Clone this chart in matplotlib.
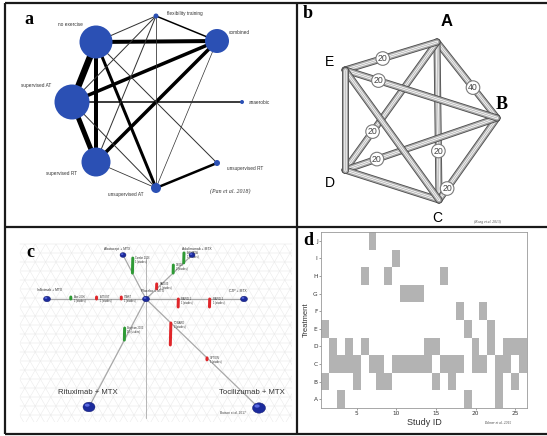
import numpy as np
import matplotlib.pyplot as plt
from matplotlib.patches import Circle, Ellipse, Rectangle

# ---- panel a: exercise network (Pan et al. 2018)
a_nodes = ['no exercise', 'flexibility training', 'combined', 'supervised AT',
           'anaerobic', 'supervised RT', 'unsupervised RT', 'unsupervised AT']
a_x = [96, 156, 217, 72, 242, 96, 217, 156]
a_y = [42, 16, 41, 102, 102, 162, 163, 188]
a_radius = [16.5, 2.5, 12, 17.5, 2, 14.5, 3, 5]
a_edges = [(0, 3), (3, 5), (0, 5), (0, 2), (3, 2), (5, 2), (0, 7), (7, 6), (3, 4),
           (2, 1), (0, 6), (0, 1), (3, 1), (5, 1), (7, 1), (7, 2), (3, 7), (5, 7)]
a_weight = [6.5, 5, 4, 4, 3.5, 3.5, 3, 2.5, 1.5, 1.5, 1, 1, 1, 1, 0.8, 0.7, 1, 0.8]
a_label_x = [70, 185, 239, 36, 246, 61, 245, 126]
a_label_y = [24, 13, 33, 86, 102, 173, 168, 194]

# ---- panel b: five treatments (Kong et al. 2013)
b_nodes = ['A', 'B', 'C', 'D', 'E']
b_x = [437, 497, 439, 345, 345]
b_y = [42, 118, 200, 170, 70]
b_counts = [('E', 'A', 0.41, 20), ('E', 'B', 0.22, 20), ('A', 'B', 0.60, 40),
            ('D', 'A', 0.30, 20), ('D', 'B', 0.21, 20), ('A', 'C', 0.69, 20),
            ('B', 'C', 0.86, 20)]

# ---- panel c: RA biologics network (Batson et al. 2017)
c_nodes = ['Placebo + MTX', 'Infliximab + MTX', 'Abatacept + MTX', 'Adalimumab + MTX',
           'CZP + MTX', 'Rituximab + MTX', 'Tocilizumab + MTX']
c_x = [146, 47, 123, 192, 244, 89, 259]
c_y = [299, 299, 255, 255, 299, 407, 408]
c_node_w = [7, 7, 6, 6, 7, 12, 13]
# bars: edge (to node), position along edge, signed height, colour, label
c_bar_node = [2, 3, 3, 3, 1, 1, 1, 4, 4, 5, 6, 6]
c_bar_t = [0.59, 0.82, 0.59, 0.23, 0.76, 0.50, 0.25, 0.33, 0.65, 0.38, 0.22, 0.54]
c_bar_h = [-15, -10, -8, -5, -2, -2, -2, 8, 8, -12, 22, 2]
c_bar_col = ['g', 'g', 'g', 'r', 'g', 'r', 'r', 'r', 'r', 'g', 'r', 'r']
c_bar_lab = ['Combe 2006\n1 (studies)', 'ARMADA\n1 (studies)', 'DE019\n2 (studies)',
             'RA0025\n1 (studies)', 'Abe 2006\n1 (studies)', 'ATTEST\n1 (studies)',
             'START\n1 (studies)', 'RAPID 1\n1 (studies)', 'RAPID 2\n1 (studies)',
             'Bingham 2003\n10 (studies)', 'TOWARD\n2 (studies)', 'OPTION\n1 (studies)']

# ---- panel d: study x treatment design matrix (Palmer et al. 2015)
treatments = ['A', 'B', 'C', 'D', 'E', 'F', 'G', 'H', 'I', 'J']
study_ids = list(range(1, 27))
arms = {
    'A': [3, 19, 23],
    'B': [1, 5, 8, 9, 15, 17, 23, 25],
    'C': [2, 3, 4, 5, 7, 8, 10, 11, 12, 13, 14, 16, 17, 18, 20, 21, 23, 24, 26],
    'D': [2, 4, 6, 14, 15, 20, 22, 24, 25, 26],
    'E': [1, 19, 22],
    'F': [18, 21],
    'G': [11, 12, 13],
    'H': [6, 9, 16],
    'I': [10],
    'J': [7],
}

SANS = ['Liberation Sans', 'DejaVu Sans']
SERIF = ['Liberation Serif', 'DejaVu Serif']

fig = plt.figure(figsize=(5.47, 4.36), dpi=100)
ax = fig.add_axes([0, 0, 1, 1])
ax.set_xlim(0, 547)
ax.set_ylim(436, 0)
ax.axis('off')
PT = 0.72  # points per pixel at 100 dpi

# ---------------- panel a
for (i, j), w in zip(a_edges, a_weight):
    ax.plot([a_x[i], a_x[j]], [a_y[i], a_y[j]], color='black' if w > 1.2 else '#333333',
            lw=w * PT, solid_capstyle='butt', zorder=2)
for x, y, r in zip(a_x, a_y, a_radius):
    ax.add_patch(Circle((x, y), r, facecolor='#2b50b4', edgecolor='none', zorder=3))
for name, lx, ly in zip(a_nodes, a_label_x, a_label_y):
    ha = 'left' if name == 'anaerobic' else 'center'
    ax.text(lx + (3 if ha == 'left' else 0), ly, name, fontsize=3.4, family=SANS,
            color='#333333', ha=ha, va='center', zorder=4)
ax.text(230, 191, '(Pan et al. 2018)', fontsize=4.2, family=SERIF, style='italic',
        color='#333333', ha='center', va='center')
ax.text(24, 20, 'a', fontsize=13, family=SERIF, weight='bold', va='center')

# ---------------- panel b
pos_b = {n: (x, y) for n, x, y in zip(b_nodes, b_x, b_y)}
for i in range(len(b_nodes)):
    for j in range(i + 1, len(b_nodes)):
        xs = [b_x[i], b_x[j]]
        ys = [b_y[i], b_y[j]]
        ax.plot(xs, ys, color='#4a4a4a', lw=7 * PT, solid_capstyle='round', zorder=2)
        ax.plot(xs, ys, color='#a6a6a6', lw=5.4 * PT, solid_capstyle='round', zorder=2)
        ax.plot(xs, ys, color='#f4f4f4', lw=2.6 * PT, solid_capstyle='round', zorder=2)
        ax.plot(xs, ys, color='#9a9a9a', lw=0.5 * PT, solid_capstyle='round', zorder=2)
for n1, n2, t, cnt in b_counts:
    (x1, y1), (x2, y2) = pos_b[n1], pos_b[n2]
    cx, cy = x1 + t * (x2 - x1), y1 + t * (y2 - y1)
    ax.add_patch(Circle((cx, cy), 6.8, facecolor='white', edgecolor='#7a7a7a', lw=0.8, zorder=5))
    ax.text(cx, cy, str(cnt), fontsize=6.3, family=SANS, color='#444444',
            ha='center', va='center', zorder=6)
ax.text(447, 22, 'A', fontsize=12, family=SANS, weight='bold', ha='center', va='center')
ax.text(502, 104, 'B', fontsize=13, family=SERIF, weight='bold', ha='center', va='center')
ax.text(437, 218, 'C', fontsize=10, family=SANS, ha='center', va='center')
ax.text(330, 183, 'D', fontsize=10, family=SANS, ha='center', va='center')
ax.text(329, 62, 'E', fontsize=10, family=SANS, ha='center', va='center')
ax.text(474, 222, '(Kong et al. 2013)', fontsize=2.6, family=SERIF, style='italic',
        color='#444444', ha='left', va='center')
ax.text(303, 14, 'b', fontsize=13, family=SERIF, weight='bold', va='center')

# ---------------- panel c
clip = Rectangle((20, 244), 272, 178, transform=ax.transData)
gy = np.arange(244, 424, 9)
for y in gy:
    ax.plot([20, 292], [y, y], color='#e4e4e4', lw=0.35, zorder=1, clip_path=clip)
k = np.tan(np.radians(60))
for x0 in np.arange(-100, 420, 10.4):
    for s in (1, -1):
        ln, = ax.plot([x0, x0 + s * 178 / k], [244, 422], color='#e8e8e8', lw=0.35, zorder=1)
        ln.set_clip_path(clip)
ax.plot([c_x[0], c_x[0]], [258, 418], color='#9a9a9a', lw=0.5, zorder=2)
for x, y in zip(c_x[1:], c_y[1:]):
    ax.plot([c_x[0], x], [c_y[0], y], color='#a8a8a8', lw=0.9, zorder=2)
for nd, t, h, col, lab in zip(c_bar_node, c_bar_t, c_bar_h, c_bar_col, c_bar_lab):
    bx = c_x[0] + t * (c_x[nd] - c_x[0])
    by = c_y[0] + t * (c_y[nd] - c_y[0])
    colour = '#2e9a35' if col == 'g' else '#e0262a'
    ax.plot([bx, bx - 0.1 * h / 4], [by, by + h], color=colour, lw=3 * PT,
            solid_capstyle='round', zorder=4)
    ty = min(by, by + h)
    ax.text(bx + 3, ty + 2, lab, fontsize=1.8, family=SANS, color='#333333',
            ha='left', va='center', zorder=5, linespacing=1.0)
for i, (x, y, w) in enumerate(zip(c_x, c_y, c_node_w)):
    ax.add_patch(Ellipse((x, y), w, w * 0.8, facecolor='#1b2a9c', edgecolor='#10186a',
                         lw=0.3, zorder=6))
    ax.add_patch(Ellipse((x - w * 0.15, y - w * 0.15), w * 0.4, w * 0.25,
                         facecolor='#5a6ae0', edgecolor='none', zorder=7))
c_lab_pos = [(153, 291), (50, 290), (117, 249), (197, 249), (238, 291), (88, 392), (252, 392)]
for i, (name, (lx, ly)) in enumerate(zip(c_nodes, c_lab_pos)):
    big = i >= 5
    ax.text(lx, ly, name, fontsize=5.6 if big else 2.4, family=SANS, color='#333333',
            ha='center', va='center', zorder=8)
ax.text(233, 413, 'Batson et al. 2017', fontsize=2.3, family=SANS, color='#444444',
        ha='center', va='center', zorder=8)
ax.text(26, 252, 'c', fontsize=13, family=SERIF, weight='bold', va='center', zorder=8)

# ---------------- panel frames
frame_kw = dict(color='#1a1a1a', lw=1.6, solid_capstyle='butt', zorder=10)
ax.plot([5, 547], [3, 3], **frame_kw)
ax.plot([5, 547], [433.5, 433.5], **frame_kw)
ax.plot([5, 5], [3, 433.5], **frame_kw)
ax.plot([297, 297], [3, 433.5], **frame_kw)
ax.plot([5, 547], [227, 227], **frame_kw)

# ---------------- panel d
axd = fig.add_axes([321 / 547, (436 - 408) / 436, 206 / 547, 176 / 436])
grid = np.zeros((len(treatments), len(study_ids)))
for r, tr in enumerate(treatments):
    for s in arms[tr]:
        grid[r, s - 1] = 1
for r in range(len(treatments)):
    for c in range(len(study_ids)):
        if grid[r, c]:
            axd.add_patch(Rectangle((study_ids[c] - 0.5, r + 0.5), 1, 1,
                                    facecolor='#b3b3b3', edgecolor='none'))
axd.set_xlim(0.5, 26.5)
axd.set_ylim(0.5, 10.5)
axd.set_xticks([5, 10, 15, 20, 25])
axd.set_yticks(range(1, 11))
axd.set_yticklabels(treatments)
axd.tick_params(labelsize=4.2, length=1.5, width=0.4, pad=1, colors='#555555',
                labelcolor='#333333')
for sp in axd.spines.values():
    sp.set_color('#999999')
    sp.set_linewidth(0.6)
axd.set_xlabel('Study ID', fontsize=6.5, family=SANS, color='#333333', labelpad=1)
axd.set_ylabel('Treatment', fontsize=5.5, family=SANS, color='#333333', labelpad=2)
ax.text(303, 240, 'd', fontsize=13, family=SERIF, weight='bold', va='center')
ax.text(498, 423, 'Palmer et al. 2015', fontsize=2.6, family=SERIF, style='italic',
        color='#444444', ha='center', va='center')

fig.savefig('out.png', dpi=100)
